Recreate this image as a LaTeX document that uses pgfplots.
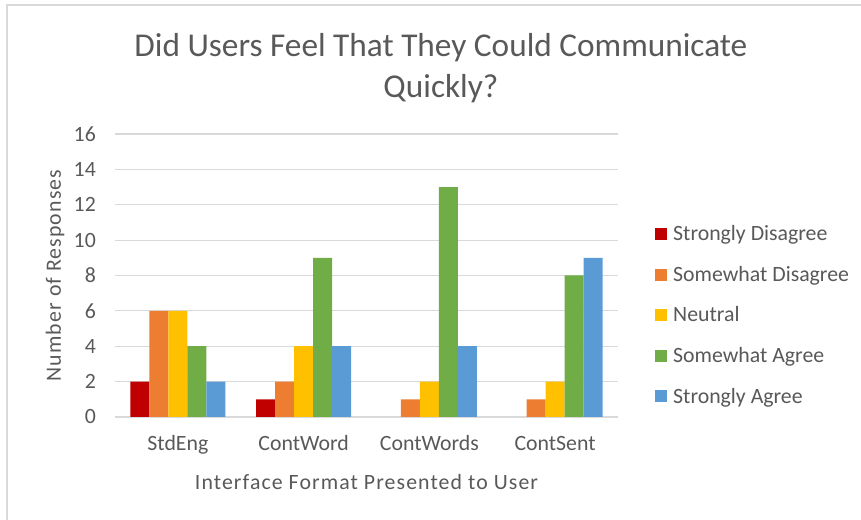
\documentclass[border=0pt]{standalone}
\usepackage{pgfplots}
\pgfplotsset{compat=1.18}
\usepackage{pgfplotstable}
\usepackage{fontspec}
\setmainfont{Carlito}
\definecolor{cRed}{HTML}{C00000}
\definecolor{cOrange}{HTML}{ED7D31}
\definecolor{cGold}{HTML}{FFC000}
\definecolor{cGreen}{HTML}{70AD47}
\definecolor{cBlue}{HTML}{5B9BD5}
\definecolor{txt}{HTML}{595959}
\definecolor{gridc}{HTML}{D9D9D9}
\pgfplotstableread{
x sd swd neu swa sa
0 2 6 6 4 2
1 1 2 4 9 4
2 0 1 2 13 4
3 0 1 2 8 9
}\datatable
\newcommand{\lbl}{\fontsize{21.8bp}{26bp}\selectfont}
\begin{document}
\begin{tikzpicture}
\path[use as bounding box] (0,0) rectangle (861bp,520bp);
\draw[gridc, line width=1.5bp] (7bp,0) -- (7bp,515bp) -- (861bp,515bp);
\begin{axis}[
  at={(115bp,103bp)}, anchor=south west,
  scale only axis, width=503bp, height=283bp,
  ybar=0pt, bar width=19bp,
  xmin=-0.5, xmax=3.5, ymin=0, ymax=16,
  xtick={0,1,2,3}, xticklabels={StdEng,ContWord,ContWords,ContSent},
  ytick={0,2,...,16},
  major tick length=0pt,
  axis line style={draw=none},
  ymajorgrids, grid style={gridc, line width=1.2bp},
  /pgf/number format/assume math mode=true,
  ticklabel style={font=\lbl, text=txt, inner sep=0pt},
  yticklabel style={anchor=east, xshift=-19bp},
  xticklabel style={anchor=base, yshift=-34bp},
  xlabel={Interface Format Presented to User},
  ylabel={Number of Responses},
  label style={font=\lbl\addfontfeatures{LetterSpace=5}, text=txt, inner sep=0pt},
  xlabel style={at={(axis description cs:0.5,0)}, anchor=base, yshift=-72bp},
  ylabel style={at={(axis description cs:-0.1193,0.5)}, anchor=center},
  title={Did Users Feel That They Could Communicate\\Quickly?},
  title style={font=\fontsize{33.3bp}{41bp}\selectfont, text=txt, align=center, inner sep=0pt,
    at={(axis description cs:0.648,1)}, anchor=base, yshift=31bp},
  legend style={at={(axis description cs:1.0736,0.36)}, anchor=west, draw=none,
    font=\lbl, text=txt, inner sep=0pt, row sep=20bp},
  legend cell align=left,
  legend image code/.code={\fill[#1] (0bp,-6bp) rectangle (12bp,6bp); \path (16bp,0bp);},
  y filter/.expression={y==0 ? nan : y},
  unbounded coords=discard,
]
\addplot[fill=cRed, draw=none] table[x=x,y=sd] {\datatable};
\addplot[fill=cOrange, draw=none] table[x=x,y=swd] {\datatable};
\addplot[fill=cGold, draw=none] table[x=x,y=neu] {\datatable};
\addplot[fill=cGreen, draw=none] table[x=x,y=swa] {\datatable};
\addplot[fill=cBlue, draw=none] table[x=x,y=sa] {\datatable};
\legend{Strongly Disagree,Somewhat Disagree,Neutral,Somewhat Agree,Strongly Agree}
\end{axis}
\end{tikzpicture}
\end{document}
